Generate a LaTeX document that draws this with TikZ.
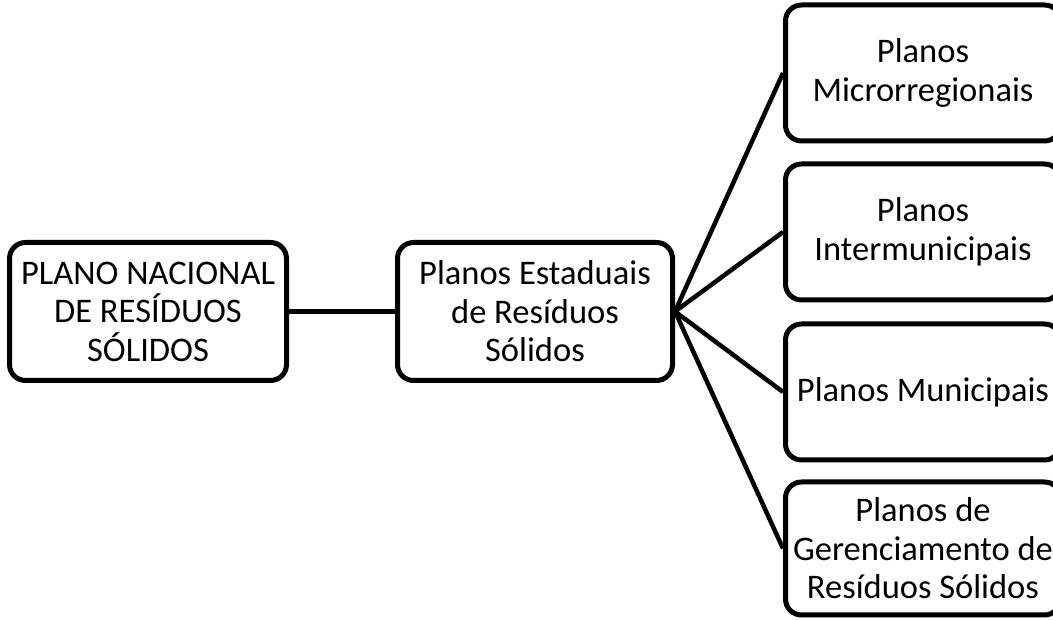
\documentclass[tikz,border=0pt]{standalone}
\usepackage{fontspec}
\setmainfont{Carlito}
\begin{document}
\begin{tikzpicture}[x=1pt,y=1pt,
  planbox/.style={draw=black, line width=5pt, rounded corners=16pt, fill=white,
    minimum width=275pt, minimum height=136pt, inner sep=0pt, align=center,
    font=\fontsize{34.5}{38.5}\selectfont},
  link/.style={line width=4.5pt}]
  \useasboundingbox (0,0) rectangle (1053,620);
  \clip (0,0) rectangle (1053,620);
  % main levels
  \node[planbox, minimum width=277pt, minimum height=138pt] (nat) at (148,308.5)
    {PLANO NACIONAL\\DE RESÍDUOS\\SÓLIDOS};
  \node[planbox, minimum height=138pt] (est) at (535,308.5)
    {Planos Estaduais\\de Resíduos\\Sólidos};
  % lower-level plans
  \node[planbox] (mic) at (923,547) {Planos\\Microrregionais};
  \node[planbox] (inter) at (923,388) {Planos\\Intermunicipais};
  \node[planbox] (mun) at (923,228) {Planos Municipais};
  \node[planbox, minimum height=133pt] (ger) at (923,71.5)
    {Planos de\\Gerenciamento de\\Resíduos Sólidos};
  % connectors
  \draw[link] (nat.east) -- (est.west);
  \draw[link] (est.east) -- (mic.west);
  \draw[link] (est.east) -- (inter.west);
  \draw[link] (est.east) -- (mun.west);
  \draw[link] (est.east) -- (ger.west);
\end{tikzpicture}
\end{document}
